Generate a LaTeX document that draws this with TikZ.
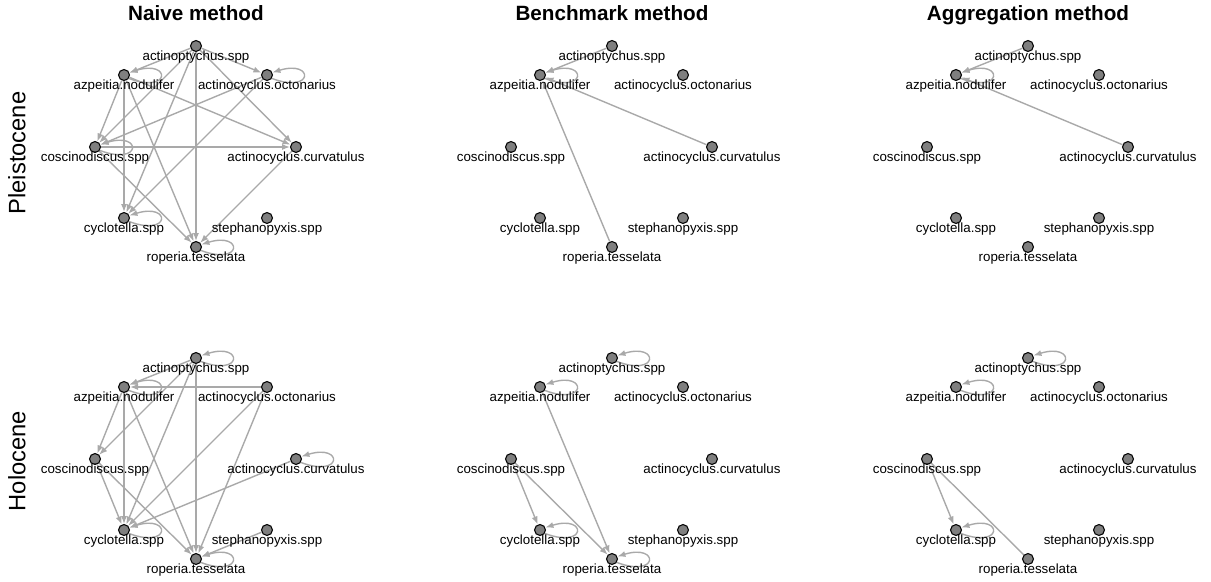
\documentclass[tikz,border=0pt]{standalone}
\usepackage{fontspec}
\setmainfont{Liberation Sans}
\usetikzlibrary{arrows.meta,backgrounds}
\definecolor{edgegray}{HTML}{A9A9A9}
\definecolor{vtxgray}{HTML}{7F7F7F}
\tikzset{
  vtx/.style={circle,draw=black,fill=vtxgray,line width=0.8pt,inner sep=0pt,minimum size=8.2pt},
  lbl/.style={font=\fontsize{10}{12}\selectfont,inner sep=0pt,label distance=-1.4pt},
  edgeline/.style={draw=edgegray,line width=1.05pt},
  edge/.style={edgeline,-{Latex[length=6pt,width=4.6pt]}},
  ttl/.style={font=\fontsize{15.5}{18}\selectfont\bfseries,inner sep=0pt,anchor=base},
  rowlbl/.style={font=\fontsize{17.8}{20}\selectfont,inner sep=0pt,rotate=90}
}
\newcommand\mknodes[1]{%
  \node[vtx,label={[lbl]below:actinoptychus.spp}] (#1P) at (196,46) {};
  \node[vtx,label={[lbl]below:actinocyclus.octonarius}] (#1O) at (267,75) {};
  \node[vtx,label={[lbl]below:actinocyclus.curvatulus}] (#1V) at (296,147) {};
  \node[vtx,label={[lbl]below:stephanopyxis.spp}] (#1S) at (267,218) {};
  \node[vtx,label={[lbl]below:roperia.tesselata}] (#1R) at (196,247) {};
  \node[vtx,label={[lbl]below:cyclotella.spp}] (#1Y) at (124,218) {};
  \node[vtx,label={[lbl]below:coscinodiscus.spp}] (#1C) at (95,147) {};
  \node[vtx,label={[lbl]below:azpeitia.nodulifer}] (#1A) at (124,75) {};
}
\newcommand\selfloop[1]{\draw[edge] (#1.-35) .. controls +(42,16) and +(42,-13) .. (#1.25);}
\begin{document}
\begin{tikzpicture}[x=0.75pt,y=-0.75pt]
\useasboundingbox (0,0) rectangle (1211,582);
% titles
\node[ttl] (t1) at (196,20) {Naive method};
\node[ttl] (t2) at (612,20) {Benchmark method};
\node[ttl] (t3) at (1028,20) {Aggregation method};
\node[rowlbl] (r1) at (17,153) {Pleistocene};
\node[rowlbl] (r2) at (17,461) {Holocene};
% nodes
\mknodes{a}
\begin{scope}[shift={(416,0)}]\mknodes{b}\end{scope}
\begin{scope}[shift={(832,0)}]\mknodes{c}\end{scope}
\begin{scope}[shift={(0,312)}]\mknodes{d}\end{scope}
\begin{scope}[shift={(416,312)}]\mknodes{e}\end{scope}
\begin{scope}[shift={(832,312)}]\mknodes{f}\end{scope}
\begin{pgfonlayer}{background}
% Naive, Pleistocene
\draw[edge] (aP) -- (aA);
\draw[edge] (aP) -- (aO);
\draw[edge] (aP) -- (aC);
\draw[edge] (aP) -- (aY);
\draw[edge] (aP) -- (aR);
\draw[edge] (aP) -- (aV);
\draw[edge] (aA) -- (aC);
\draw[edge] (aA) -- (aY);
\draw[edge] (aA) -- (aR);
\draw[edge] (aA) -- (aV);
\draw[edge] (aO) -- (aC);
\draw[edge] (aO) -- (aY);
\draw[edge] (aC) -- (aV);
\draw[edge] (aC) -- (aR);
\draw[edge] (aV) -- (aR);
\selfloop{aA}\selfloop{aO}\selfloop{aC}\selfloop{aY}\selfloop{aR}
% Benchmark, Pleistocene
\draw[edge] (bP) -- (bA);
\draw[edge] (bV) -- (bA);
\draw[edge] (bR) -- (bA);
\selfloop{bA}
% Aggregation, Pleistocene
\draw[edge] (cP) -- (cA);
\draw[edge] (cV) -- (cA);
\selfloop{cA}
% Naive, Holocene
\draw[edge] (dP) -- (dA);
\draw[edge] (dO) -- (dA);
\draw[edge] (dA) -- (dC);
\draw[edge] (dP) -- (dC);
\draw[edge] (dA) -- (dY);
\draw[edge] (dA) -- (dR);
\draw[edge] (dP) -- (dY);
\draw[edge] (dP) -- (dR);
\draw[edge] (dO) -- (dY);
\draw[edge] (dO) -- (dR);
\draw[edge] (dC) -- (dY);
\draw[edge] (dC) -- (dR);
\draw[edge] (dV) -- (dY);
\draw[edge] (dS) -- (dR);
\selfloop{dP}\selfloop{dA}\selfloop{dV}\selfloop{dY}\selfloop{dR}
% Benchmark, Holocene
\draw[edge] (eA) -- (eR);
\draw[edge] (eC) -- (eY);
\draw[edge] (eC) -- (eR);
\selfloop{eP}\selfloop{eA}\selfloop{eY}\selfloop{eR}
% Aggregation, Holocene
\draw[edge] (fC) -- (fY);
\draw[edgeline] (fC) -- (fR);
\selfloop{fP}\selfloop{fA}\selfloop{fY}
\end{pgfonlayer}
\end{tikzpicture}
\end{document}
